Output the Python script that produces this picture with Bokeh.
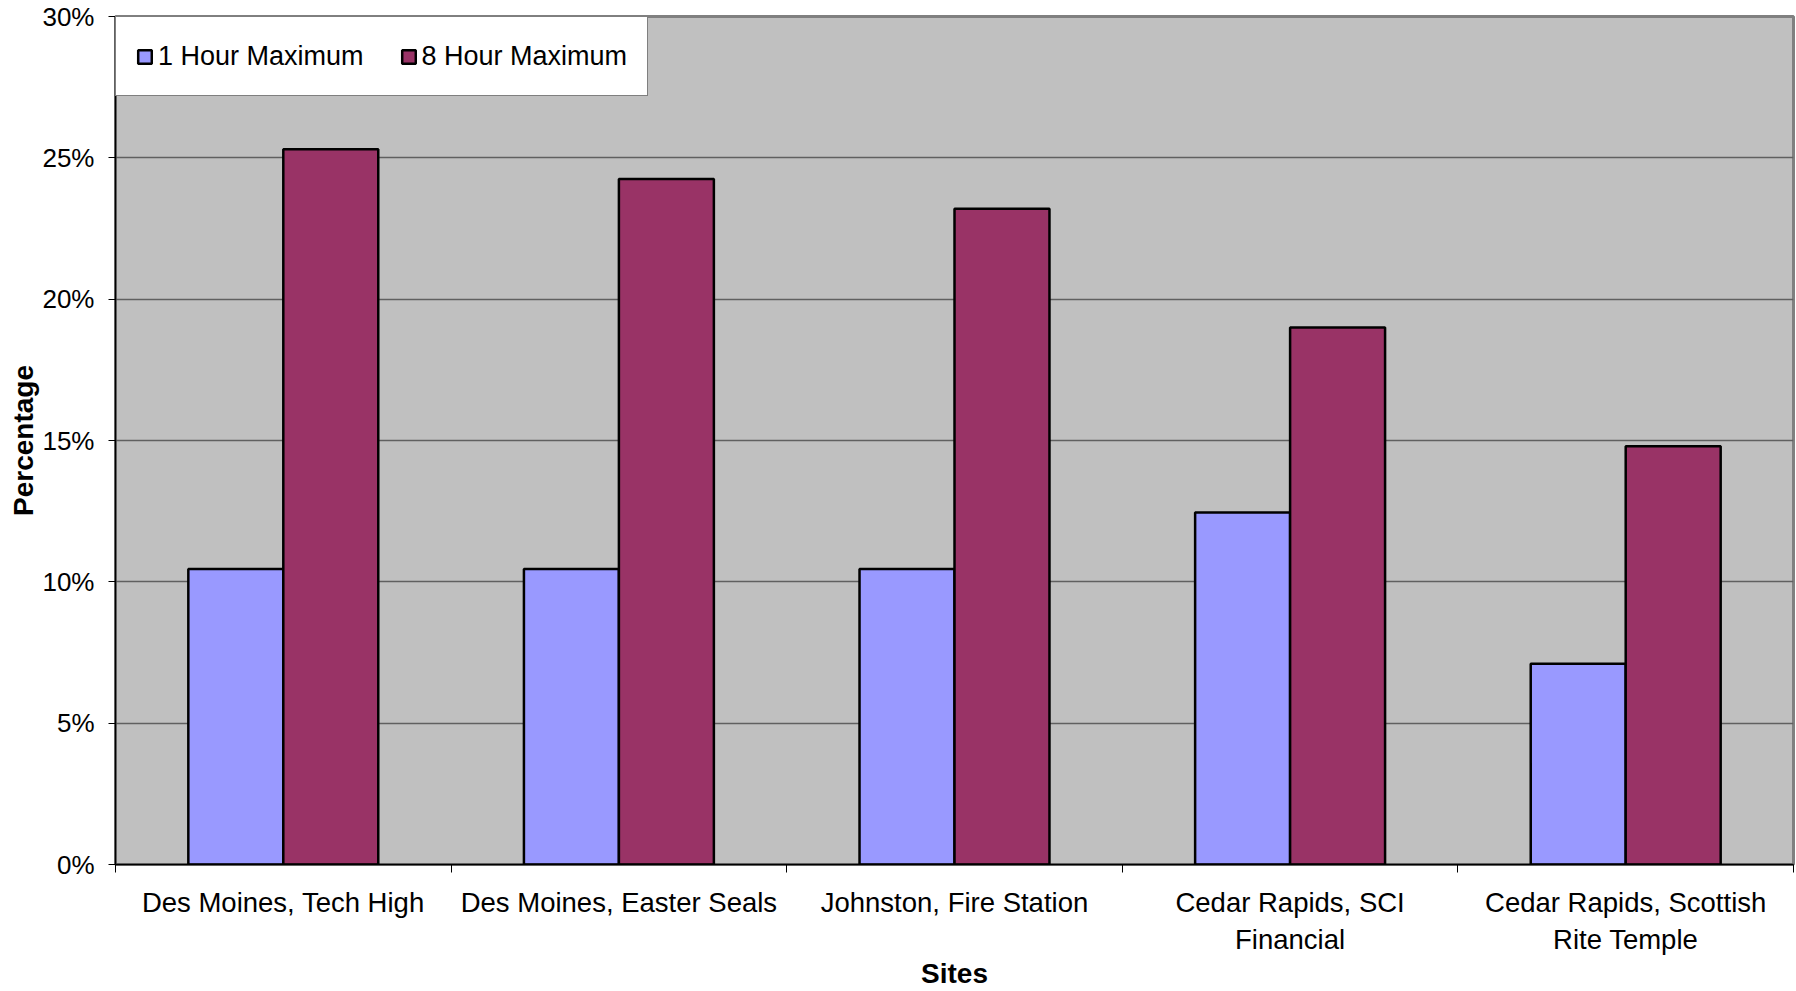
from bokeh.plotting import figure
from bokeh.models import (ColumnDataSource, FixedTicker, PrintfTickFormatter,
                          Range1d, Legend, LegendItem)
from bokeh.embed import file_html
from bokeh.resources import INLINE

sites = ["Des Moines, Tech High", "Des Moines, Easter Seals", "Johnston, Fire Station",
         "Cedar Rapids, SCI\nFinancial", "Cedar Rapids, Scottish\nRite Temple"]
one_hour = [10.45, 10.45, 10.45, 12.45, 7.1]
eight_hour = [25.3, 24.25, 23.2, 19.0, 14.8]
y_ticks = [0, 5, 10, 15, 20, 25, 30]

FONT = "Liberation Sans"
BAR_W = 0.283

idx = list(range(len(sites)))
src1 = ColumnDataSource(dict(x=[i + 0.5 - BAR_W / 2 for i in idx], top=one_hour))
src8 = ColumnDataSource(dict(x=[i + 0.5 + BAR_W / 2 for i in idx], top=eight_hour))

p = figure(width=1796, height=991, output_backend="svg", toolbar_location=None,
           x_range=Range1d(0, len(sites)), y_range=Range1d(0, 30))
p.min_border_left = 115
p.min_border_right = 3
p.min_border_top = 16
p.min_border_bottom = 124
p.background_fill_color = "#C0C0C0"
p.border_fill_color = "white"
p.outline_line_color = "#808080"
p.outline_line_width = 3

r1 = p.vbar(x="x", top="top", width=BAR_W, bottom=0, source=src1,
            fill_color="#9999FF", line_color="black", line_width=2.5)
r8 = p.vbar(x="x", top="top", width=BAR_W, bottom=0, source=src8,
            fill_color="#993366", line_color="black", line_width=2.5)

# x axis: labels at category centres, tick marks at boundaries
xa = p.xaxis[0]
xa.ticker = FixedTicker(ticks=[i + 0.5 for i in idx], minor_ticks=[i for i in range(len(sites) + 1)])
xa.major_label_overrides = {i + 0.5: s for i, s in zip(idx, sites)}
xa.major_tick_out = 0
xa.major_tick_in = 0
xa.minor_tick_out = 8
xa.minor_tick_in = 0
xa.minor_tick_line_color = "black"
xa.axis_line_color = "black"
xa.axis_line_width = 1.5
xa.major_label_text_font = FONT
xa.major_label_text_font_size = "27.5px"
xa.major_label_text_color = "black"
xa.major_label_standoff = 14
xa.axis_label = "Sites"
xa.axis_label_text_font = FONT
xa.axis_label_text_font_size = "28px"
xa.axis_label_text_font_style = "bold"
xa.axis_label_text_color = "black"
xa.axis_label_standoff = 0

ya = p.yaxis[0]
ya.ticker = FixedTicker(ticks=y_ticks, minor_ticks=[])
ya.formatter = PrintfTickFormatter(format="%d%%")
ya.major_tick_out = 7
ya.major_tick_in = 0
ya.major_tick_line_color = "black"
ya.axis_line_color = "black"
ya.axis_line_width = 1.5
ya.major_label_text_font = FONT
ya.major_label_text_font_size = "26px"
ya.major_label_text_color = "black"
ya.major_label_standoff = 14
ya.axis_label = "Percentage"
ya.axis_label_text_font = FONT
ya.axis_label_text_font_size = "28px"
ya.axis_label_text_font_style = "bold"
ya.axis_label_text_color = "black"
ya.axis_label_standoff = 0

p.xgrid.visible = False
p.ygrid.ticker = FixedTicker(ticks=y_ticks)
p.ygrid.grid_line_color = "#606060"
p.ygrid.grid_line_width = 1.5

legend = Legend(items=[LegendItem(label="1 Hour Maximum", renderers=[r1]),
                       LegendItem(label="8 Hour Maximum", renderers=[r8])],
                location="top_left", orientation="horizontal")
legend.margin = 0
legend.padding = 20
legend.spacing = 36
legend.glyph_width = 17
legend.glyph_height = 17
legend.label_standoff = 5
legend.label_height = 38
legend.label_text_font = FONT
legend.label_text_font_size = "27px"
legend.label_text_color = "black"
legend.border_line_color = "black"
legend.border_line_width = 1
legend.background_fill_color = "white"
legend.background_fill_alpha = 1
p.add_layout(legend, "center")

open("out.html", "w").write(file_html(p, INLINE))
